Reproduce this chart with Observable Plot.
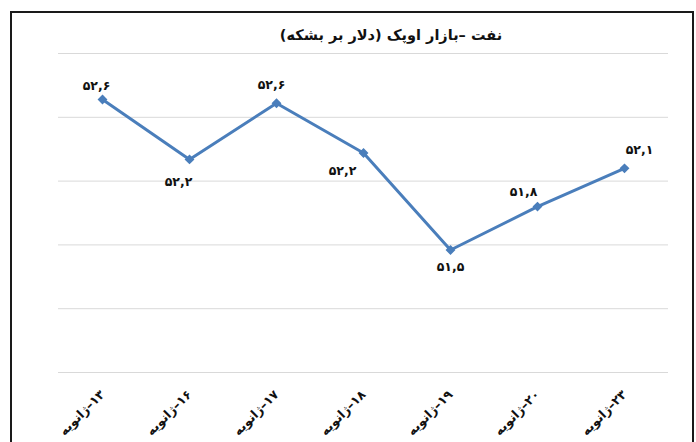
<!DOCTYPE html>
<html><head><meta charset="utf-8">
<script src="https://cdn.jsdelivr.net/npm/d3@7"></script>
<script src="https://cdn.jsdelivr.net/npm/@observablehq/plot@0.6"></script>
<style>
body{margin:0;background:#fff;width:696px;height:442px;overflow:hidden;position:relative;font-family:"DejaVu Sans",sans-serif}
#frame{position:absolute;left:10px;top:11px;width:680px;height:440px;border:2px solid #1a1a1a;pointer-events:none}
#title{position:relative;height:45px}
#title span{position:absolute;left:391px;top:27px;transform:translateX(-50%);direction:rtl;font-weight:bold;font-size:14.5px;white-space:nowrap;color:#111}
#chart svg{display:block}
</style></head><body>
<div id="title"><span>نفت –بازار اوپک (دلار بر بشکه)</span></div>
<div id="chart"></div>
<div id="frame"></div>
<script>
const dates = ["۱۳–ژانویه", "۱۶–ژانویه", "۱۷–ژانویه", "۱۸–ژانویه", "۱۹–ژانویه", "۲۰–ژانویه", "۲۳–ژانویه"];
const prices = [52.64, 52.17, 52.61, 52.22, 51.46, 51.80, 52.10];
const gridTicks = [50.5, 51, 51.5, 52, 52.5, 53];

// label placement (pixel offsets), kept apart from the data
const labelOffsets = [[-6, -13], [-11, 23], [-5, -18], [-21, 18], [0, 17], [-14, -15], [15, -18]];

const faDigits = "۰۱۲۳۴۵۶۷۸۹";
const fa = v => v.toFixed(1).replace(/\d/g, d => faDigits[d]).replace(".", ",");
const rtl = s => "\u2067" + s + "\u2069";

const rows = dates.map((d, i) => ({date: d, price: prices[i], i}));
const color = "#4a7ebb";

const labelMarks = rows.map(r => Plot.text([r], {
  x: "date", y: "price", text: d => fa(d.price),
  dx: labelOffsets[r.i][0], dy: labelOffsets[r.i][1],
  fontWeight: "bold", fontSize: 12.5, fill: "#111"
}));

const chart = Plot.plot({
  width: 696, height: 397,
  marginTop: 8, marginBottom: 70, marginLeft: 58, marginRight: 28,
  style: {fontFamily: "'DejaVu Sans', sans-serif", background: "#fff"},
  x: {type: "point", domain: dates, padding: 0.5},
  y: {domain: [50.5, 53]},
  marks: [
    Plot.ruleY(gridTicks, {stroke: "#d9d9d9", strokeWidth: 1}),
    Plot.axisX({tickRotate: -45, tickSize: 0, tickPadding: 20, textAnchor: "end",
      tickFormat: d => rtl(d), fontWeight: "bold", fontSize: 12.5, fill: "#111", label: null}),
    Plot.axisY({ticks: [], label: null, tickSize: 0}),
    Plot.line(rows, {x: "date", y: "price", stroke: color, strokeWidth: 3}),
    Plot.dot(rows, {x: "date", y: "price", symbol: "diamond2", r: 3.5, fill: color, stroke: color}),
    ...labelMarks
  ]
});
document.getElementById("chart").appendChild(chart);
</script>
</body></html>
